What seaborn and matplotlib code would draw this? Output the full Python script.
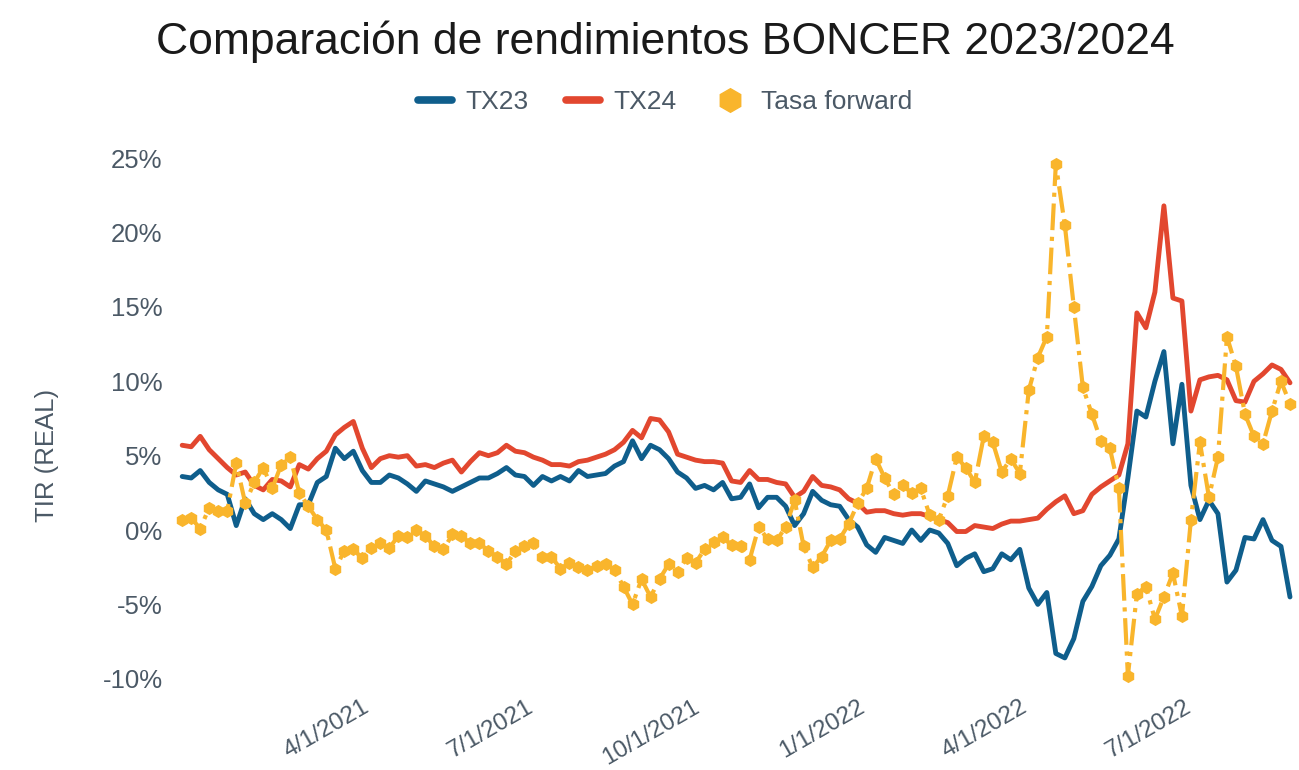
import matplotlib
matplotlib.use('Agg')
import matplotlib.pyplot as plt
import matplotlib.dates as mdates
from matplotlib.lines import Line2D
import numpy as np
import pandas as pd
import seaborn as sns

# rendimientos (TIR real, %) leidos cada 5 dias desde el 22/12/2020
fechas = pd.date_range('2020-12-22', periods=124, freq='5D')

tx23 = [3.6, 3.5, 4.0, 3.2, 2.7, 2.4, 0.3, 2.1, 1.1, 0.7,
        1.1, 0.7, 0.1, 1.7, 1.7, 3.2, 3.6, 5.5, 4.8, 5.3,
        4.0, 3.2, 3.2, 3.7, 3.5, 3.1, 2.6, 3.3, 3.1, 2.9,
        2.6, 2.9, 3.2, 3.5, 3.5, 3.8, 4.2, 3.7, 3.6, 3.0,
        3.6, 3.3, 3.6, 3.3, 4.0, 3.6, 3.7, 3.8, 4.3, 4.6,
        6.0, 4.8, 5.7, 5.4, 4.8, 3.9, 3.5, 2.8, 3.0, 2.7,
        3.2, 2.1, 2.2, 3.1, 1.5, 2.2, 2.2, 1.6, 0.3, 1.1,
        2.6, 2.0, 1.7, 1.6, 0.7, 0.2, -1.0, -1.5, -0.5, -0.7,
        -0.9, 0.0, -0.7, 0.0, -0.2, -0.9, -2.4, -1.9, -1.6, -2.8,
        -2.6, -1.6, -2.0, -1.3, -3.9, -5.0, -4.2, -8.3, -8.6, -7.3,
        -4.8, -3.8, -2.4, -1.7, -0.6, 3.5, 8.0, 7.6, 10.0, 12.0,
        5.8, 9.8, 3.0, 0.7, 2.0, 1.1, -3.5, -2.7, -0.5, -0.6,
        0.7, -0.7, -1.1, -4.5]

tx24 = [5.7, 5.6, 6.3, 5.4, 4.8, 4.2, 3.7, 3.9, 3.0, 2.7,
        3.4, 3.3, 2.9, 4.4, 4.1, 4.8, 5.3, 6.4, 6.9, 7.3,
        5.5, 4.2, 4.8, 5.0, 4.9, 5.0, 4.3, 4.4, 4.2, 4.5,
        4.7, 3.9, 4.6, 5.2, 5.0, 5.2, 5.7, 5.3, 5.2, 4.9,
        4.7, 4.4, 4.4, 4.3, 4.6, 4.7, 4.9, 5.1, 5.4, 5.9,
        6.7, 6.2, 7.5, 7.4, 6.6, 5.1, 4.9, 4.7, 4.6, 4.6,
        4.5, 3.3, 3.2, 4.0, 3.4, 3.4, 3.2, 3.1, 2.2, 2.6,
        3.6, 3.0, 2.9, 2.7, 2.1, 1.8, 1.2, 1.3, 1.3, 1.1,
        1.0, 1.1, 1.1, 0.9, 0.7, 0.5, -0.1, -0.1, 0.3, 0.2,
        0.1, 0.4, 0.6, 0.6, 0.7, 0.8, 1.4, 1.9, 2.3, 1.1,
        1.3, 2.4, 2.9, 3.3, 3.7, 5.8, 14.6, 13.6, 16.0, 21.8,
        15.6, 15.4, 8.0, 10.1, 10.3, 10.4, 10.1, 8.7, 8.6, 10.0,
        10.5, 11.1, 10.8, 9.9]

forward = [0.7, 0.8, 0.1, 1.5, 1.3, 1.3, 4.5, 1.8, 3.2, 4.2,
           2.8, 4.4, 4.9, 2.5, 1.6, 0.7, 0.0, -2.6, -1.4, -1.3,
           -1.9, -1.2, -0.9, -1.2, -0.4, -0.5, 0.0, -0.4, -1.1, -1.3,
           -0.3, -0.4, -0.9, -0.9, -1.4, -1.8, -2.3, -1.4, -1.1, -0.9,
           -1.8, -1.8, -2.6, -2.2, -2.5, -2.7, -2.4, -2.3, -2.7, -3.8,
           -5.0, -3.3, -4.5, -3.3, -2.3, -2.8, -1.9, -2.2, -1.3, -0.8,
           -0.5, -1.0, -1.1, -2.0, 0.2, -0.6, -0.7, 0.2, 2.0, -1.1,
           -2.5, -1.8, -0.7, -0.6, 0.4, 1.8, 2.8, 4.8, 3.5, 2.4,
           3.0, 2.5, 2.8, 1.0, 0.7, 2.3, 4.9, 4.2, 3.2, 6.3,
           5.9, 3.9, 4.8, 3.8, 9.4, 11.6, 13.0, 24.6, 20.5, 15.0,
           9.6, 7.8, 6.0, 5.5, 2.8, -9.8, -4.3, -3.8, -6.0, -4.5,
           -2.9, -5.8, 0.7, 5.9, 2.2, 4.9, 13.0, 11.0, 7.8, 6.3,
           5.8, 8.0, 10.0, 8.5]

series_names = ['TX23', 'TX24', 'Tasa forward']
colors = ['#0f5e8c', '#e2472f', '#f9b52c']
quarter_ticks = ['2021-04-01', '2021-07-01', '2021-10-01', '2022-01-01', '2022-04-01', '2022-07-01']
y_ticks = [-10, -5, 0, 5, 10, 15, 20, 25]

sns.set_theme(style='white')
plt.rcParams['font.family'] = ['Liberation Sans', 'DejaVu Sans']
plt.rcParams['axes.unicode_minus'] = False
text_color = '#4b5966'

fig = plt.figure(figsize=(12.99, 7.70), dpi=100)
ax = fig.add_axes([175 / 1299, 0.0992, 1 - 175 / 1299, 0.7146])

sns.lineplot(x=fechas, y=tx23, color=colors[0], linewidth=3.5, ax=ax, zorder=2)
sns.lineplot(x=fechas, y=tx24, color=colors[1], linewidth=3.5, ax=ax, zorder=3)
sns.lineplot(x=fechas, y=forward, color=colors[2], linewidth=3, linestyle='-.',
             marker='h', markersize=9.5, markeredgewidth=0, ax=ax, zorder=4)

ax.set_xlim(pd.Timestamp('2020-12-18'), pd.Timestamp('2022-09-03'))
ax.set_ylim(-11, 26)
ax.set_xticks(pd.to_datetime(quarter_ticks))
ax.xaxis.set_major_formatter(plt.FuncFormatter(
    lambda v, pos: f'{mdates.num2date(v).month}/{mdates.num2date(v).day}/{mdates.num2date(v).year}'))
ax.set_yticks(y_ticks)
ax.yaxis.set_major_formatter(plt.FuncFormatter(lambda v, pos: f'{v:.0f}%'))
ax.tick_params(axis='y', length=0, pad=9, labelsize=18.5, labelcolor=text_color)
ax.tick_params(axis='x', length=0, pad=2, labelsize=17.5, labelcolor=text_color)
for lbl in ax.get_xticklabels():
    lbl.set_rotation(30)
    lbl.set_ha('right')
    lbl.set_va('top')
    lbl.set_rotation_mode('anchor')
ax.set_xlabel('')
ax.set_ylabel('')
sns.despine(ax=ax, left=True, bottom=True)
ax.grid(False)

fig.text(665 / 1299, 1 - 42 / 770, 'Comparación de rendimientos BONCER 2023/2024',
         ha='center', va='center', fontsize=32, color='#1a1a1a')
fig.text(47 / 1299, 1 - 455 / 770, 'TIR (REAL)', rotation=90, ha='center', va='center',
         fontsize=18.5, color=text_color)

handles = [Line2D([], [], color=colors[0], linewidth=5.5),
           Line2D([], [], color=colors[1], linewidth=5.5),
           Line2D([], [], color=colors[2], linestyle='none', marker='h', markersize=17)]
fig.legend(handles, series_names, loc='center', bbox_to_anchor=(665 / 1299, 1 - 102 / 770),
           ncol=3, frameon=False, fontsize=19, handlelength=1.3, handletextpad=0.5,
           columnspacing=1.4, labelcolor=text_color)

fig.savefig('out.png', dpi=100)
